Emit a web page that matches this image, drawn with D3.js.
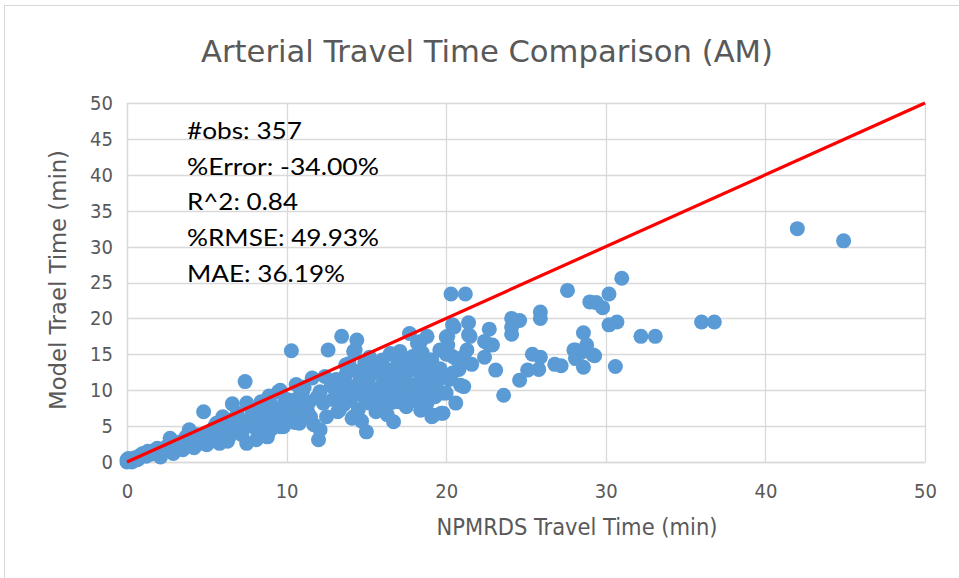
<!DOCTYPE html>
<html><head><meta charset="utf-8">
<script src="https://cdn.jsdelivr.net/npm/d3@7"></script>
<style>body{margin:0;background:#fff}</style></head>
<body><svg id="c" width="959" height="578"></svg>
<script>
const title = "Arterial Travel Time Comparison (AM)";
const xLabel = "NPMRDS Travel Time (min)";
const yLabel = "Model Trael Time (min)";
const stats = ["#obs: 357", "%Error: -34.00%", "R^2: 0.84", "%RMSE: 49.93%", "MAE: 36.19%"];
const xTicks = [0, 10, 20, 30, 40, 50];
const yTicks = [0, 5, 10, 15, 20, 25, 30, 35, 40, 45, 50];
const refX = [0, 50];
const refY = [0, 50];
const npmrds = [0,0.1,0.2,0.3,0.1,0.4,0.5,0.2,0.6,0.8,1.0,1.2,1.5,1.9,2.1,2.3,2.7,2.9,3.0,3.3,3.5,3.9,4.1,4.2,4.4,4.6,4.8,5.0,5.2,5.4,5.6,5.8,6.0,6.2,6.4,6.6,6.9,7.0,7.3,7.4,7.5,7.5,7.7,7.9,8.1,8.2,8.4,8.5,8.8,8.8,9.0,9.2,9.4,9.5,9.6,9.6,9.8,9.8,10.0,10.2,10.3,10.5,10.8,10.8,10.8,11.0,11.3,11.5,11.6,12.0,12.1,12.1,12.3,12.5,12.6,
13.2,13.3,13.3,13.45,13.7,13.7,13.9,14.0,14.1,14.2,14.2,14.2,14.3,14.4,14.6,14.6,14.7,15.0,15.0,15.2,15.2,15.6,15.9,15.9,16.3,16.5,16.5,16.7,16.7,16.8,16.9,17.1,17.1,17.5,17.5,17.7,17.9,17.9,17.9,18.2,18.4,18.4,18.4,18.6,18.6,18.8,18.8,19.0,19.0,19.0,19.1,19.1,19.2,19.2,19.2,19.4,19.6,19.7,19.8,19.8,20.0,20.0,20.1,20.1,20.3,20.4,20.4,20.4,20.5,20.6,20.7,20.9,21.0,21.1,21.1,21.2,21.4,21.4,21.5,22.4,22.4,22.7,22.7,22.9,23.1,23.6,24.1,24.1,24.1,24.6,24.6,25.1,25.4,25.8,25.9,25.9,25.9,26.8,27.2,27.6,28.0,28.1,28.1,28.4,28.6,28.6,28.8,29.0,29.2,29.3,29.4,29.8,30.2,30.2,30.6,30.7,31.0,32.2,33.1,36.0,36.8,42.0,44.9,
13.5,13.8,14.4,14.8,15.1,15.4,15.5,15.7,16.0,16.2,16.4,16.6,16.9,17.2,17.3,17.6,17.8,18.0,18.1,18.3,18.7,18.9,19.3,19.5,16.0,15.2,14.9,13.1,12.8,12.4,11.9,11.4,11.1,10.6,13.6,14.5,15.6,16.3,17.0,12.9,11.7,10.3,9.3,8.6,8.0,7.2,6.7,6.5,5.9,5.3,4.9,4.5,4.0,3.7,3.2,2.5,2.0,1.7,1.3,0.7,0.3,0.0,9.0,10.1,6.3,5.5,7.8,8.9,9.9,11.0,20.2,20.8,21.3,20.0,19.6,18.5,21.6,
14.8,15.8,16.6,17.4,18.2,15.3,16.1,17.7,14.1,13.4];
const model = [0,0.2,0.1,0.4,0.5,0.2,0.6,0.3,0.3,0.9,1.2,0.8,1.1,1.9,0.7,1.5,3.3,1.2,2.2,2.8,1.7,4.5,3.1,2.0,3.8,2.6,7.0,2.4,4.0,3.2,5.4,2.6,6.3,4.5,3.5,8.1,6.8,5.2,4.9,11.2,2.6,8.2,6.0,4.9,3.1,7.0,8.4,4.2,3.5,5.8,8.2,6.5,7.2,9.8,10.0,4.9,4.9,7.7,6.3,8.6,15.5,5.5,7.7,9.1,5.4,6.8,7.2,6.3,11.7,3.1,4.5,9.8,8.2,6.3,15.6,
7.0,7.2,9.1,17.5,12.1,13.5,13.7,8.6,6.1,6.3,10.5,15.4,15.6,17.0,10.0,11.4,5.7,4.2,12.8,8.2,10.0,12.4,10.5,7.7,11.9,9.1,15.1,5.6,14.9,11.7,13.3,10.0,15.4,12.4,7.7,17.9,8.6,14.2,14.7,16.5,7.2,11.4,16.8,8.6,11.9,8.2,17.5,13.0,14.0,14.2,6.3,14.2,6.5,10.5,12.4,11.0,13.0,6.8,6.8,9.6,9.6,17.4,16.3,17.5,23.4,12.4,14.7,19.1,18.8,8.2,14.2,10.7,14.4,10.5,14.7,23.4,17.7,19.4,17.5,14.6,16.8,16.3,18.5,16.3,12.8,9.3,17.8,18.8,20.0,11.4,19.7,12.8,15.0,12.9,14.6,20.0,20.9,13.6,13.4,23.9,15.6,14.4,15.6,15.2,13.2,18.0,16.3,22.3,14.9,14.8,22.2,21.5,19.1,23.4,13.3,19.5,25.6,17.5,17.5,19.5,19.5,32.5,30.8,
10.8,9.5,12.6,9.2,11.3,9.6,13.6,8.9,12.0,13.0,10.4,8.3,9.7,11.1,13.8,9.3,10.8,12.9,9.7,13.5,10.2,12.2,9.1,11.8,14.2,14.6,13.9,11.5,10.6,11.9,9.0,8.3,10.4,10.8,8.0,7.3,7.0,6.6,8.4,8.7,5.2,6.9,5.5,6.6,5.6,3.8,4.3,5.8,3.9,3.0,3.6,3.3,2.5,3.5,2.0,2.2,1.4,1.6,1.5,0.4,0.0,0.3,4.5,5.9,2.9,5.0,7.4,9.2,8.8,9.8,11.5,12.9,15.6,15.0,15.6,15.2,13.6,
11.9,12.6,11.4,12.1,10.4,9.9,8.6,9.4,10.1,9.8];

const svg = d3.select("#c");
const m = {l:127, r:925, t:103, b:462};
const x = d3.scaleLinear().domain([0,50]).range([m.l, m.r]);
const y = d3.scaleLinear().domain([0,50]).range([m.b, m.t]);
const grid = "#d9d9d9", txt = "#595959";

svg.append("rect").attr("x",4.5).attr("y",5.5).attr("width",970).attr("height",590)
  .attr("fill","#fff").attr("stroke",grid).attr("stroke-width",1);

// gridlines
svg.append("g").selectAll("line").data(yTicks).join("line")
  .attr("x1",m.l).attr("x2",m.r).attr("y1",d=>Math.round(y(d))+0.5).attr("y2",d=>Math.round(y(d))+0.5)
  .attr("stroke",grid).attr("stroke-width",1.3);
svg.append("g").selectAll("line").data(xTicks).join("line")
  .attr("y1",m.t).attr("y2",m.b).attr("x1",d=>Math.round(x(d))+0.5).attr("x2",d=>Math.round(x(d))+0.5)
  .attr("stroke",grid).attr("stroke-width",1.3);

const fontTicks = "'Liberation Sans Narrow','DejaVu Sans Condensed','Open Sans',sans-serif";
const xAxis = svg.append("g").attr("transform",`translate(0,${m.b})`)
  .call(d3.axisBottom(x).tickValues(xTicks).tickSize(0).tickPadding(20));
const yAxis = svg.append("g").attr("transform",`translate(${m.l},0)`)
  .call(d3.axisLeft(y).tickValues(yTicks).tickSize(0).tickPadding(14));
[xAxis,yAxis].forEach(a=>{
  a.select(".domain").attr("stroke",grid).attr("stroke-width",1.3);
  a.selectAll("text").attr("fill",txt).style("font-family",fontTicks).style("font-size","20px");
});
xAxis.selectAll("text").attr("dy","0.32em").attr("y",30);

// points
svg.append("g").selectAll("circle").data(npmrds.map((v,i)=>[v,model[i]])).join("circle")
  .attr("cx",d=>x(d[0])).attr("cy",d=>y(d[1])).attr("r",7.5)
  .attr("fill","#5b9bd5");

// reference line
svg.append("line").attr("x1",x(refX[0])).attr("y1",y(refY[0])).attr("x2",x(refX[1])).attr("y2",y(refY[1]))
  .attr("stroke","#ff0000").attr("stroke-width",3.2);

// title
svg.append("text").attr("x",487).attr("y",62).attr("text-anchor","middle")
  .attr("fill",txt).style("font-family",fontTicks).style("font-size","31px")
  .attr("textLength",572).attr("lengthAdjust","spacingAndGlyphs").text(title);

// axis titles
svg.append("text").attr("x",577).attr("y",535).attr("text-anchor","middle")
  .attr("fill",txt).style("font-family",fontTicks).style("font-size","23px")
  .attr("textLength",281).attr("lengthAdjust","spacingAndGlyphs").text(xLabel);
svg.append("text").attr("transform","translate(66,280) rotate(-90)").attr("text-anchor","middle")
  .attr("fill",txt).style("font-family",fontTicks).style("font-size","23px")
  .attr("textLength",260).attr("lengthAdjust","spacingAndGlyphs").text(yLabel);

// stats
const statW = [115,192,111,192,158];
svg.append("g").selectAll("text").data(stats).join("text")
  .attr("x",187).attr("y",(d,i)=>139+i*35.7)
  .attr("fill","#000").style("font-family","Lato,'Open Sans',sans-serif").style("font-size","24px")
  .attr("textLength",(d,i)=>statW[i]).attr("lengthAdjust","spacingAndGlyphs").text(d=>d);
</script></body></html>
